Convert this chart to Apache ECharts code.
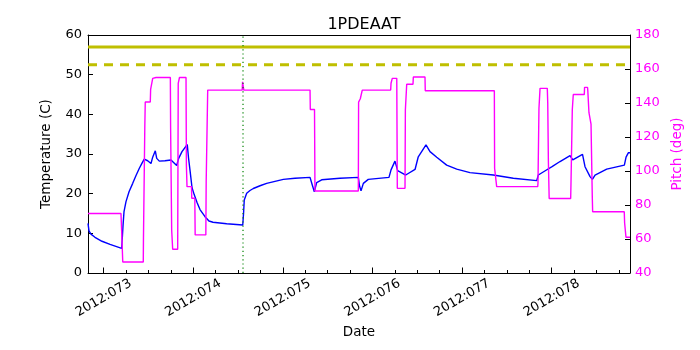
<!DOCTYPE html>
<html><head><meta charset="utf-8">
<script src="https://cdn.jsdelivr.net/npm/echarts@6/dist/echarts.min.js"></script>
<style>html,body{margin:0;padding:0;background:#fff}#c{width:700px;height:350px}</style>
</head><body><div id="c"></div>
<script>
// Time axis in day-of-year 2012 (decimal days)
const xRange = [72.825, 78.874];
const majorTickDays = [73, 74, 75, 76, 77, 78];
const minorTickDays = [73.25, 73.5, 73.75, 74.25, 74.5, 74.75, 75.25, 75.5, 75.75, 76.25, 76.5, 76.75, 77.25, 77.5, 77.75, 78.25, 78.5, 78.75];

const tempDays = [72.825, 72.836, 72.858, 72.903, 72.981, 73.071, 73.201, 73.208, 73.216, 73.227, 73.249, 73.283, 73.324, 73.361, 73.398, 73.428, 73.453, 73.491, 73.528, 73.547, 73.576, 73.592, 73.621, 73.684, 73.751, 73.815, 73.837, 73.874, 73.933, 73.947, 73.963, 73.986, 74.011, 74.042, 74.075, 74.131, 74.175, 74.220, 74.373, 74.552, 74.561, 74.569, 74.596, 74.633, 74.670, 74.745, 74.819, 74.912, 75.005, 75.135, 75.303, 75.328, 75.351, 75.377, 75.433, 75.637, 75.842, 75.855, 75.872, 75.898, 75.953, 76.184, 76.207, 76.251, 76.281, 76.371, 76.475, 76.511, 76.597, 76.642, 76.717, 76.828, 76.940, 77.088, 77.348, 77.572, 77.833, 77.851, 77.870, 77.937, 78.004, 78.093, 78.205, 78.235, 78.344, 78.372, 78.428, 78.454, 78.484, 78.614, 78.811, 78.830, 78.855, 78.874];
const tempValues = [12.5, 10.6, 9.8, 9.0, 8.0, 7.2, 6.2, 6.6, 12, 15.5, 18, 20.5, 22.6, 24.6, 26.4, 27.7, 28.7, 28.3, 27.6, 29.2, 30.8, 28.9, 28.2, 28.3, 28.5, 27.1, 28.9, 30.6, 32.4, 29, 26, 21.5, 19.7, 17.8, 16, 14.2, 13.1, 12.8, 12.4, 12.1, 15, 18.4, 20.1, 20.8, 21.3, 22.0, 22.6, 23.1, 23.6, 23.9, 24.1, 22.2, 20.5, 22.8, 23.5, 23.9, 24.1, 22, 20.7, 22.6, 23.6, 24.1, 26, 28.2, 25.8, 24.7, 26.1, 29.3, 32.3, 30.6, 29.2, 27.2, 26.2, 25.3, 24.7, 23.9, 23.3, 24.7, 25.2, 25.9, 26.8, 28.1, 29.6, 28.5, 29.9, 26.8, 24.3, 23.6, 24.7, 26.2, 27.2, 29.2, 30.3, 30.3];

const pitchDays = [72.825, 73.193, 73.197, 73.208, 73.213, 73.442, 73.444, 73.456, 73.459, 73.464, 73.520, 73.524, 73.544, 73.547, 73.584, 73.744, 73.747, 73.756, 73.759, 73.767, 73.770, 73.826, 73.832, 73.846, 73.919, 73.923, 73.930, 73.980, 73.983, 74.017, 74.021, 74.140, 74.144, 74.155, 74.161, 74.546, 74.550, 74.559, 74.564, 75.303, 75.306, 75.353, 75.358, 75.842, 75.845, 75.861, 75.864, 75.883, 75.886, 76.203, 76.207, 76.218, 76.221, 76.271, 76.277, 76.363, 76.367, 76.378, 76.382, 76.452, 76.456, 76.586, 76.589, 77.360, 77.363, 77.383, 77.386, 77.844, 77.847, 77.855, 77.858, 77.866, 77.870, 77.951, 77.956, 77.963, 77.972, 78.212, 78.215, 78.226, 78.230, 78.237, 78.241, 78.364, 78.367, 78.400, 78.403, 78.413, 78.416, 78.435, 78.439, 78.450, 78.453, 78.457, 78.810, 78.814, 78.827, 78.829, 78.874];
const pitchValues = [75, 75, 70, 70, 46.5, 46.5, 60.6, 60.6, 126, 140.6, 140.6, 148, 148, 154.5, 155, 155, 125.5, 125.5, 65, 65, 54, 54, 151.6, 155, 155, 103.5, 90.8, 90.8, 84, 84, 62.4, 62.4, 93.7, 93.7, 147.6, 147.6, 152.5, 152.5, 147.6, 147.6, 136.2, 136.2, 88.2, 88.2, 140.5, 140.5, 142.5, 142.5, 147.6, 147.6, 151.6, 151.6, 154.5, 154.5, 89.8, 89.8, 136, 136, 151, 151, 155.3, 155.3, 147.2, 147.2, 101.6, 101.6, 90.8, 90.8, 92.8, 92.8, 136.9, 136.9, 148.6, 148.6, 140, 106, 83.8, 83.8, 91.8, 91.8, 136, 136, 145, 145, 149.2, 149.2, 147.4, 147.4, 134.3, 134.3, 127.6, 127.6, 85, 76, 76, 69.4, 69.4, 61, 61];

const limitPlanning = 57;
const limitCaution = 52.5;
const markerDay = 74.555;

const zip = (a, b) => a.map((v, i) => [v, b[i]]);
const FONT = 'DejaVu Sans';

const chart = echarts.init(document.getElementById('c'), null, {renderer: 'canvas'});
chart.setOption({
  animation: false,
  backgroundColor: '#fff',
  title: {
    text: '1PDEAAT', left: 359, top: 12, textAlign: 'center',
    textStyle: {fontFamily: FONT, fontSize: 16, fontWeight: 'normal', color: '#000'}
  },
  grid: {left: 88, right: 70, top: 35, bottom: 77, show: false},
  xAxis: [{
    type: 'value', min: xRange[0], max: xRange[1], position: 'bottom',
    name: 'Date', nameLocation: 'middle', nameGap: 48,
    nameTextStyle: {fontFamily: FONT, fontSize: 13.5, color: '#000'},
    axisLine: {show: true, lineStyle: {color: '#000', width: 1}},
    axisTick: {show: true, inside: true, length: 5.5, customValues: majorTickDays, lineStyle: {color: '#000'}},
    axisLabel: {
      customValues: majorTickDays, rotate: 30, align: 'center', verticalAlign: 'middle', margin: 25,
      fontFamily: FONT, fontSize: 13, color: '#000',
      formatter: v => '2012:' + String(Math.round(v)).padStart(3, '0')
    },
    splitLine: {show: false}
  }, {
    type: 'value', min: xRange[0], max: xRange[1], position: 'bottom',
    axisLine: {show: false},
    axisTick: {show: true, inside: true, length: 3, customValues: minorTickDays, lineStyle: {color: '#000'}},
    axisLabel: {show: false},
    splitLine: {show: false}
  }, {
    type: 'value', min: xRange[0], max: xRange[1], position: 'top',
    axisLine: {show: true, lineStyle: {color: '#000', width: 1}},
    axisTick: {show: false},
    axisLabel: {show: false},
    splitLine: {show: false}
  }],
  yAxis: [{
    type: 'value', min: 0, max: 60, interval: 10, position: 'left',
    name: 'Temperature (C)', nameLocation: 'middle', nameGap: 35, nameRotate: 90,
    nameTextStyle: {fontFamily: FONT, fontSize: 13.5, color: '#000'},
    axisLine: {show: true, lineStyle: {color: '#000'}},
    axisTick: {show: true, inside: true, length: 5, lineStyle: {color: '#000'}},
    axisLabel: {fontFamily: FONT, fontSize: 13, color: '#000', margin: 6},
    splitLine: {show: false}
  }, {
    type: 'value', min: 40, max: 180, interval: 20, position: 'right',
    name: 'Pitch (deg)', nameLocation: 'middle', nameGap: 33, nameRotate: 90,
    nameTextStyle: {fontFamily: FONT, fontSize: 13.5, color: '#ff00ff'},
    axisLine: {show: true, lineStyle: {color: '#000'}},
    axisTick: {show: true, inside: true, length: 5, lineStyle: {color: '#000'}},
    axisLabel: {fontFamily: FONT, fontSize: 13, color: '#ff00ff', margin: 5},
    splitLine: {show: false}
  }],
  series: [{
    type: 'line', xAxisIndex: 0, yAxisIndex: 0, data: [[xRange[0], limitPlanning], [xRange[1], limitPlanning]],
    showSymbol: false, lineStyle: {color: '#bfbf00', width: 3}, silent: true, z: 2
  }, {
    type: 'line', xAxisIndex: 0, yAxisIndex: 0, data: [[xRange[0], limitCaution], [xRange[1], limitCaution]],
    showSymbol: false, lineStyle: {color: '#bfbf00', width: 3, type: [9, 7]}, silent: true, z: 2
  }, {
    type: 'line', xAxisIndex: 0, yAxisIndex: 0, data: zip(tempDays, tempValues),
    showSymbol: false, lineStyle: {color: '#0000ff', width: 1.4}, z: 3
  }, {
    type: 'line', xAxisIndex: 0, yAxisIndex: 1, data: zip(pitchDays, pitchValues),
    showSymbol: false, lineStyle: {color: '#ff00ff', width: 1.4}, z: 4
  }, {
    type: 'line', xAxisIndex: 0, yAxisIndex: 0, data: [[markerDay, 0], [markerDay, 60]],
    showSymbol: false, lineStyle: {color: '#008000', width: 1.2, type: [1.2, 3]}, z: 5
  }]
});
</script></body></html>
